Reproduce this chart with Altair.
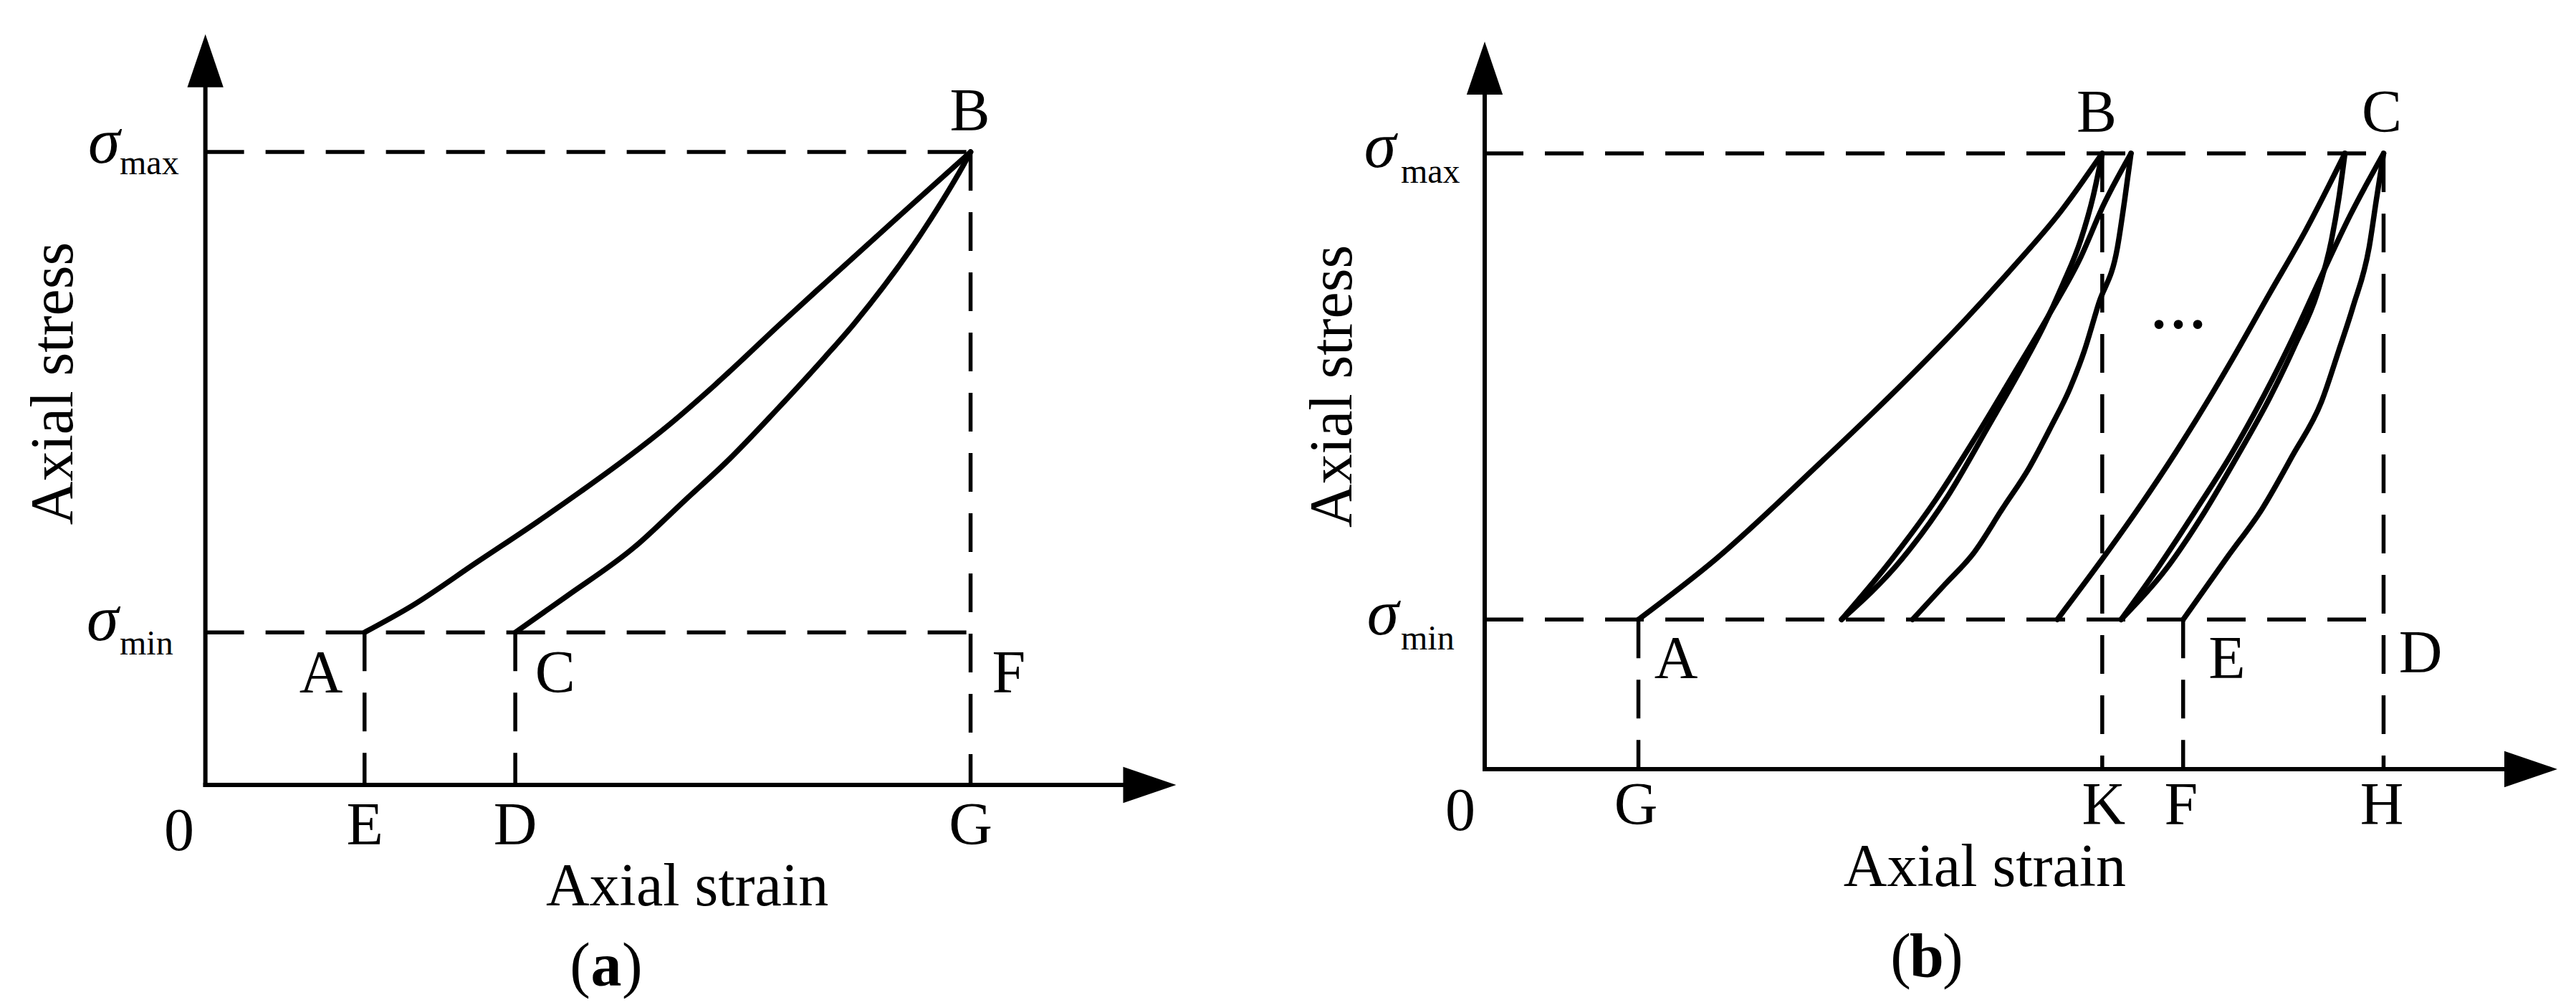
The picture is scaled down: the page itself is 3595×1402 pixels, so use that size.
import altair as alt
import pandas as pd

FONT = "Liberation Serif"

# ---------------- panel (a): one loading / unloading cycle ----------------
A_SIG_MIN = 2.41
A_SIG_MAX = 10.0
A_X_E = 2.08
A_X_D = 4.05
A_X_G = 10.0
A_LOAD_X = [2.08, 2.70, 3.55, 4.33, 4.91, 5.49, 6.08, 6.66, 7.51, 8.09, 9.05, 10.0]
A_LOAD_Y = [2.41, 2.83, 3.52, 4.15, 4.64, 5.15, 5.71, 6.32, 7.28, 7.92, 8.97, 10.0]
A_UNLOAD_X = [4.05, 4.72, 5.61, 6.27, 6.85, 7.43, 8.09, 8.48, 9.48, 9.91, 10.0]
A_UNLOAD_Y = [2.41, 2.98, 3.76, 4.50, 5.15, 5.88, 6.75, 7.29, 8.94, 9.80, 10.0]

A_LETTERS = ["0", "E", "D", "G", "A", "C", "F", "B"]
A_LETTER_X = [-0.343, 2.083, 4.049, 10.0, 1.511, 4.572, 10.50, 9.99]
A_LETTER_Y = [-1.031, -0.940, -0.940, -0.940, 1.461, 1.461, 1.461, 10.340]

# ---------------- panel (b): repeated cycles ----------------
B_SIG_MIN = 2.43
B_SIG_MAX = 10.0
B_X_G = 1.71
B_X_K = 6.87
B_X_F = 7.77
B_X_H = 10.0
# every curve listed from the sigma_min end to the sigma_max end
B_C1_X = [1.71, 2.57, 3.73, 4.27, 4.80, 5.34, 5.87, 6.41, 6.87]
B_C1_Y = [2.43, 3.41, 4.97, 5.72, 6.48, 7.29, 8.14, 9.06, 10.0]
B_C2_X = [3.97, 4.64, 5.15, 5.60, 6.00, 6.22, 6.43, 6.63, 6.77, 6.87]
B_C2_Y = [2.43, 3.41, 4.43, 5.56, 6.59, 7.20, 7.87, 8.59, 9.31, 10.0]
B_C3_X = [3.97, 4.53, 5.02, 5.47, 5.87, 6.27, 6.62, 6.89, 7.19]
B_C3_Y = [2.43, 3.41, 4.38, 5.41, 6.38, 7.36, 8.28, 9.18, 10.0]
B_C4_X = [4.76, 5.12, 5.44, 5.76, 6.06, 6.30, 6.51, 6.67, 6.83, 7.04, 7.12, 7.19]
B_C4_Y = [2.43, 3.00, 3.51, 4.23, 4.90, 5.56, 6.18, 6.79, 7.56, 8.48, 9.25, 10.0]
B_C5_X = [6.37, 6.87, 7.27, 7.69, 8.06, 8.33, 8.73, 9.13, 9.57]
B_C5_Y = [2.43, 3.41, 4.23, 5.15, 6.02, 6.69, 7.72, 8.74, 10.0]
B_C6_X = [7.08, 7.58, 8.01, 8.38, 8.73, 9.02, 9.26, 9.42, 9.50, 9.57]
B_C6_Y = [2.43, 3.25, 4.18, 5.10, 6.02, 6.90, 7.72, 8.59, 9.25, 10.0]
B_C7_X = [7.08, 7.48, 7.90, 8.30, 8.67, 8.99, 9.28, 9.63, 10.0]
B_C7_Y = [2.43, 3.25, 4.18, 5.10, 6.07, 7.00, 7.92, 9.00, 10.0]
B_C8_X = [7.77, 8.27, 8.65, 8.99, 9.31, 9.50, 9.66, 9.84, 9.92, 10.0]
B_C8_Y = [2.43, 3.46, 4.23, 5.10, 5.97, 6.79, 7.51, 8.48, 9.25, 10.0]

B_LETTERS = ["0", "G", "K", "F", "H", "A", "E", "D", "B", "C"]
B_LETTER_X = [-0.271, 1.682, 6.887, 7.748, 9.980, 2.128, 8.258, 10.411, 6.808, 9.980]
B_LETTER_Y = [-0.990, -0.896, -0.896, -0.896, -0.896, 1.478, 1.478, 1.572, 10.349, 10.349]

# ---------------- layout ----------------
H = 1380
WA, WB = 1780, 1795
XA_DOM, YA_DOM = [-2.609, 14.059], [-3.318, 12.310]
XB_DOM, YB_DOM = [-2.264, 12.045], [-3.667, 12.398]

DASH = [54, 30]
UP = "M0,-1L0.68,1L-0.68,1Z"
RIGHT = "M1,0L-1,-0.68L-1,0.68Z"
ARROW_SIZE = 5476


def curves_df(curves):
    rows = []
    for name, xs, ys in curves:
        for i, (x, y) in enumerate(zip(xs, ys)):
            rows.append({"curve": name, "i": i, "x": x, "y": y})
    return pd.DataFrame(rows)


def panel(width, xdom, ydom, curves, dashes, axis_x_end, axis_y_end,
          letters, sig_max, sig_min, stress_pos, strain_pos, tag_pos, tag, extra=None):
    X = alt.X("x:Q", scale=alt.Scale(domain=xdom, nice=False, zero=False), axis=None)
    Y = alt.Y("y:Q", scale=alt.Scale(domain=ydom, nice=False, zero=False), axis=None)

    dash_df = pd.DataFrame(dashes, columns=["x", "y", "x2", "y2"])
    dash_layer = alt.Chart(dash_df).mark_rule(
        color="black", strokeWidth=5.5, strokeDash=DASH, strokeCap="butt"
    ).encode(x=X, y=Y, x2="x2:Q", y2="y2:Q")

    axis_df = pd.DataFrame([[0, 0, axis_x_end, 0], [0, 0, 0, axis_y_end]],
                           columns=["x", "y", "x2", "y2"])
    axis_layer = alt.Chart(axis_df).mark_rule(
        color="black", strokeWidth=6, strokeCap="square"
    ).encode(x=X, y=Y, x2="x2:Q", y2="y2:Q")

    curve_layer = alt.Chart(curves_df(curves)).mark_line(
        color="black", strokeWidth=7.5, interpolate="monotone",
        strokeCap="round", strokeJoin="round"
    ).encode(x=X, y=Y, detail="curve:N", order="i:Q")

    up_layer = alt.Chart(pd.DataFrame({"x": [0], "y": [axis_y_end]})).mark_point(
        shape=UP, size=ARROW_SIZE, filled=True, color="black", opacity=1, strokeWidth=0
    ).encode(x=X, y=Y)
    right_layer = alt.Chart(pd.DataFrame({"x": [axis_x_end], "y": [0]})).mark_point(
        shape=RIGHT, size=ARROW_SIZE, filled=True, color="black", opacity=1, strokeWidth=0
    ).encode(x=X, y=Y)

    letters_df = pd.DataFrame(letters, columns=["t", "x", "y"])
    letter_layer = alt.Chart(letters_df).mark_text(
        font=FONT, fontSize=84, align="center", baseline="alphabetic", color="black"
    ).encode(x=X, y=Y, text="t:N")

    sig_df = pd.DataFrame([["σ", sig_max[0], sig_max[1]], ["σ", sig_min[0], sig_min[1]]],
                          columns=["t", "x", "y"])
    sig_layer = alt.Chart(sig_df).mark_text(
        font=FONT, fontSize=90, fontStyle="italic", align="center",
        baseline="alphabetic", color="black"
    ).encode(x=X, y=Y, text="t:N")

    sub_df = pd.DataFrame([["max", sig_max[2], sig_max[3]], ["min", sig_min[2], sig_min[3]]],
                          columns=["t", "x", "y"])
    sub_layer = alt.Chart(sub_df).mark_text(
        font=FONT, fontSize=48, align="left", baseline="alphabetic", color="black"
    ).encode(x=X, y=Y, text="t:N")

    stress_layer = alt.Chart(pd.DataFrame({"t": ["Axial stress"], "x": [stress_pos[0]],
                                           "y": [stress_pos[1]]})).mark_text(
        font=FONT, fontSize=84, angle=270, align="center", baseline="alphabetic", color="black"
    ).encode(x=X, y=Y, text="t:N")

    strain_layer = alt.Chart(pd.DataFrame({"t": ["Axial strain"], "x": [strain_pos[0]],
                                           "y": [strain_pos[1]]})).mark_text(
        font=FONT, fontSize=84, align="center", baseline="alphabetic", color="black"
    ).encode(x=X, y=Y, text="t:N")

    tag_df = pd.DataFrame({"x": [tag_pos[0]], "y": [tag_pos[1]]})
    tag_mid = alt.Chart(tag_df.assign(t=tag)).mark_text(
        font=FONT, fontSize=86, fontWeight="bold", align="center", baseline="alphabetic",
        color="black"
    ).encode(x=X, y=Y, text="t:N")
    tag_l = alt.Chart(tag_df.assign(t="(")).mark_text(
        font=FONT, fontSize=86, align="right", baseline="alphabetic", dx=-22, color="black"
    ).encode(x=X, y=Y, text="t:N")
    tag_r = alt.Chart(tag_df.assign(t=")")).mark_text(
        font=FONT, fontSize=86, align="left", baseline="alphabetic", dx=22, color="black"
    ).encode(x=X, y=Y, text="t:N")

    layers = [dash_layer, axis_layer, curve_layer, up_layer, right_layer, letter_layer,
              sig_layer, sub_layer, stress_layer, strain_layer, tag_l, tag_mid, tag_r]
    if extra is not None:
        layers.append(extra(X, Y))
    return alt.layer(*layers).properties(width=width, height=H)


chart_a = panel(
    WA, XA_DOM, YA_DOM,
    curves=[("load", A_LOAD_X, A_LOAD_Y), ("unload", A_UNLOAD_X, A_UNLOAD_Y)],
    dashes=[[0, A_SIG_MAX, A_X_G, A_SIG_MAX],
            [0, A_SIG_MIN, A_X_G, A_SIG_MIN],
            [A_X_E, A_SIG_MIN, A_X_E, 0],
            [A_X_D, A_SIG_MIN, A_X_D, 0],
            [A_X_G, A_SIG_MAX, A_X_G, 0]],
    axis_x_end=12.34, axis_y_end=11.44,
    letters=list(zip(A_LETTERS, A_LETTER_X, A_LETTER_Y)),
    sig_max=(-1.325, 9.83, -1.120, 9.649),
    sig_min=(-1.344, 2.288, -1.120, 2.061),
    stress_pos=(-1.74, 6.342), strain_pos=(6.297, -1.903),
    tag_pos=(5.238, -3.171), tag="a",
)


def dots_layer(X, Y):
    return alt.Chart(pd.DataFrame({"t": ["..."], "x": [7.716], "y": [7.171]})).mark_text(
        font=FONT, fontSize=108, align="center", baseline="alphabetic", color="black"
    ).encode(x=X, y=Y, text="t:N")


chart_b = panel(
    WB, XB_DOM, YB_DOM,
    curves=[("c1", B_C1_X, B_C1_Y), ("c2", B_C2_X, B_C2_Y), ("c3", B_C3_X, B_C3_Y),
            ("c4", B_C4_X, B_C4_Y), ("c5", B_C5_X, B_C5_Y), ("c6", B_C6_X, B_C6_Y),
            ("c7", B_C7_X, B_C7_Y), ("c8", B_C8_X, B_C8_Y)],
    dashes=[[0, B_SIG_MAX, B_X_H, B_SIG_MAX],
            [0, B_SIG_MIN, B_X_H, B_SIG_MIN],
            [B_X_G, B_SIG_MIN, B_X_G, 0],
            [B_X_K, B_SIG_MAX, B_X_K, 0],
            [B_X_F, B_SIG_MIN, B_X_F, 0],
            [B_X_H, B_SIG_MAX, B_X_H, 0]],
    axis_x_end=11.638, axis_y_end=11.385,
    letters=list(zip(B_LETTERS, B_LETTER_X, B_LETTER_Y)),
    sig_max=(-1.164, 9.779, -0.933, 9.523),
    sig_min=(-1.132, 2.189, -0.933, 1.944),
    stress_pos=(-1.483, 6.217), strain_pos=(5.564, -1.90),
    tag_pos=(4.918, -3.364), tag="b", extra=dots_layer,
)

chart = alt.hconcat(chart_a, chart_b, spacing=0, bounds="flush").properties(
    padding=0, background="white"
).configure_view(strokeWidth=0)

chart.save("out.html", embed_options={"renderer": "svg", "actions": False})
